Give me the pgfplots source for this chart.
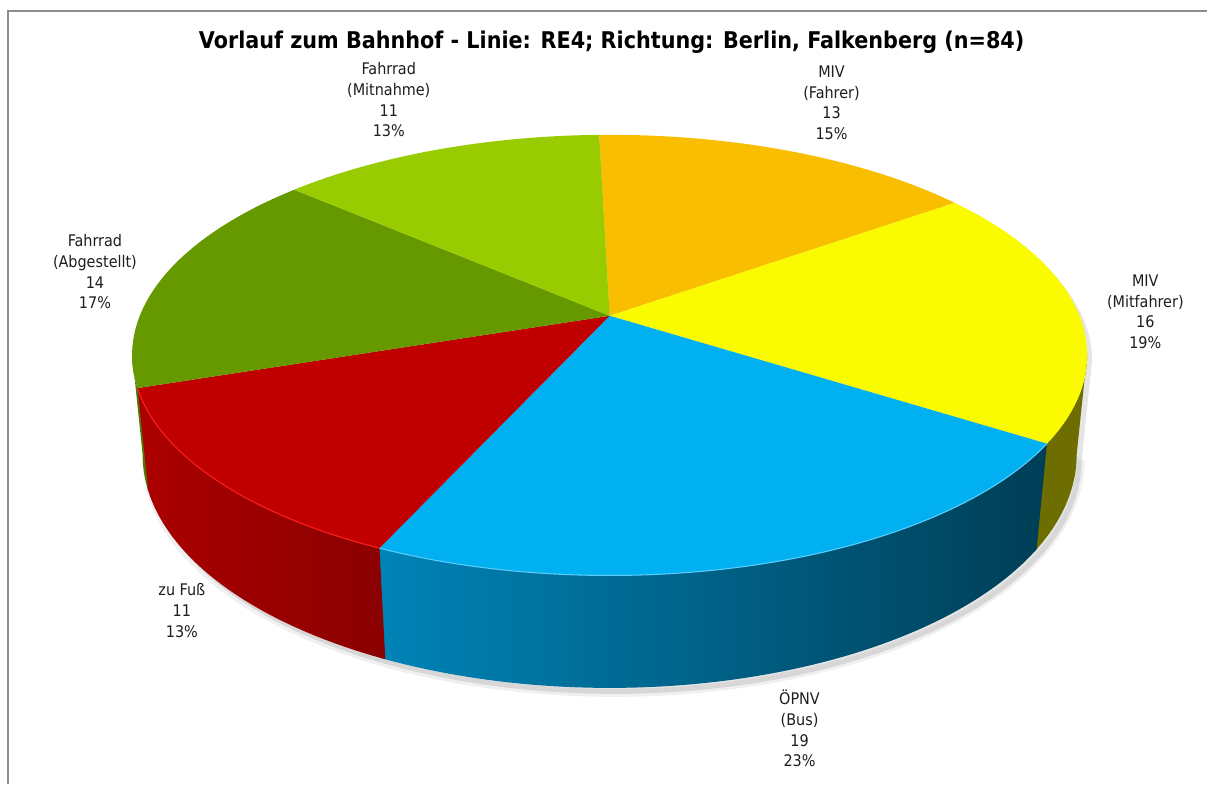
\documentclass[border=0pt]{standalone}
\usepackage{pgfplots}
\pgfplotsset{compat=1.18}
\usepackage{pgfplotstable}
\usepackage{fontspec}
\setmainfont{DejaVu Sans Condensed}
\definecolor{cOrange}{RGB}{250,190,0}
\definecolor{cYellow}{RGB}{250,250,0}
\definecolor{cBlue}{RGB}{0,176,240}
\definecolor{cRed}{RGB}{192,0,0}
\definecolor{cDGreen}{RGB}{102,153,0}
\definecolor{cLGreen}{RGB}{153,204,0}
\definecolor{wYellow}{RGB}{110,110,0}
\definecolor{wBlueL}{RGB}{0,132,184}
\definecolor{wBlueM}{RGB}{0,88,120}
\definecolor{wBlueR}{RGB}{0,62,86}
\definecolor{wRedL}{RGB}{172,0,0}
\definecolor{wRedR}{RGB}{138,0,0}
\definecolor{wGreen}{RGB}{78,118,0}
\definecolor{frame}{RGB}{140,140,140}
\tikzset{declare function={
  den(\t,\z)=4.99+0.891*cos(\t)-0.454*\z;
  px(\t,\z)=610+2346*sin(\t)/den(\t,\z);
  py(\t,\z)=468+2346*(0.454*cos(\t)+0.891*\z)/den(\t,\z);
  wt(\s)=ifthenelse(\s<=1,\s,ifthenelse(\s<=1.1,1,2.1-\s));
  wz(\s)=ifthenelse(\s<=1,0,ifthenelse(\s<=1.1,-2.4*(\s-1),-0.24));
  st(\s)=ifthenelse(\s<=1,100+160*\s,260+200*(\s-1));
  sz(\s)=ifthenelse(\s<=1,-0.24,0);
}}
\pgfplotstableread{
idx value
0 13
1 16
2 19
3 11
4 14
5 11
}\piedata
\begin{document}
\begin{tikzpicture}
\pgfplotstablegetelem{0}{value}\of\piedata\let\vA\pgfplotsretval
\pgfplotstablegetelem{1}{value}\of\piedata\let\vB\pgfplotsretval
\pgfplotstablegetelem{2}{value}\of\piedata\let\vC\pgfplotsretval
\pgfplotstablegetelem{3}{value}\of\piedata\let\vD\pgfplotsretval
\pgfplotstablegetelem{4}{value}\of\piedata\let\vE\pgfplotsretval
\pgfplotstablegetelem{5}{value}\of\piedata\let\vF\pgfplotsretval
\pgfmathsetmacro\total{\vA+\vB+\vC+\vD+\vE+\vF}
\pgfmathsetmacro\aA{-1.5}
\pgfmathsetmacro\aB{\aA+360*\vA/\total}
\pgfmathsetmacro\aC{\aB+360*\vB/\total}
\pgfmathsetmacro\aD{\aC+360*\vC/\total}
\pgfmathsetmacro\aE{\aD+360*\vD/\total}
\pgfmathsetmacro\aF{\aE+360*\vE/\total}
\pgfmathsetmacro\aG{\aF+360*\vF/\total}
\pgfmathsetmacro\yS{max(\aB,100)}
\pgfmathsetmacro\gE{min(\aF,260)}
\pgfmathsetmacro\cX{\aC+0.6}
\pgfmathsetmacro\dX{\aD+0.6}
\pgfmathsetmacro\eX{\aE+0.6}
\begin{axis}[width=906pt, height=588pt, scale only axis,
  xmin=0, xmax=1208, ymin=0, ymax=784, hide axis, clip=false]
\fill[white] (axis cs:0,0) rectangle (axis cs:1208,784);
% shadow
\addplot[draw=none, fill=black, fill opacity=0.10, domain=0:2, samples=241]
  ({px(st(x),sz(x))+5},{py(st(x),sz(x))-6}) -- cycle;
\addplot[draw=black, draw opacity=0.06, line width=6pt, fill=none, domain=0:1, samples=121]
  ({px(100+160*x,-0.24)+4},{py(100+160*x,-0.24)-5});
% side walls
\addplot[draw=none, fill=wYellow, domain=0:2.1, samples=211]
  ({px(\yS+(\cX-\yS)*wt(x),wz(x))},{py(\yS+(\cX-\yS)*wt(x),wz(x))}) -- cycle;
\addplot[draw=none, left color=wBlueL, middle color=wBlueM, right color=wBlueR, domain=0:2.1, samples=421]
  ({px(\aC+(\dX-\aC)*wt(x),wz(x))},{py(\aC+(\dX-\aC)*wt(x),wz(x))}) -- cycle;
\addplot[draw=none, left color=wRedL, right color=wRedR, domain=0:2.1, samples=316]
  ({px(\aD+(\eX-\aD)*wt(x),wz(x))},{py(\aD+(\eX-\aD)*wt(x),wz(x))}) -- cycle;
\addplot[draw=none, fill=wGreen, domain=0:2.1, samples=106]
  ({px(\aE+(\gE-\aE)*wt(x),wz(x))},{py(\aE+(\gE-\aE)*wt(x),wz(x))}) -- cycle;
% top faces
\addplot[draw=none, fill=cOrange, domain=\aA:\aB, samples=80] ({px(x,0)},{py(x,0)}) -- (axis cs:610,468) -- cycle;
\addplot[draw=none, fill=cYellow, domain=\aB:\aC, samples=80] ({px(x,0)},{py(x,0)}) -- (axis cs:610,468) -- cycle;
\addplot[draw=none, fill=cBlue, domain=\aC:\aD, samples=80] ({px(x,0)},{py(x,0)}) -- (axis cs:610,468) -- cycle;
\addplot[draw=none, fill=cRed, domain=\aD:\aE, samples=80] ({px(x,0)},{py(x,0)}) -- (axis cs:610,468) -- cycle;
\addplot[draw=none, fill=cDGreen, domain=\aE:\aF, samples=80] ({px(x,0)},{py(x,0)}) -- (axis cs:610,468) -- cycle;
\addplot[draw=none, fill=cLGreen, domain=\aF:\aG, samples=80] ({px(x,0)},{py(x,0)}) -- (axis cs:610,468) -- cycle;
% rim highlights
\addplot[draw={rgb,255:red,90;green,205;blue,255}, line width=0.8pt, domain=\aC:\aD, samples=80] ({px(x,0)},{py(x,0)});
\addplot[draw={rgb,255:red,255;green,30;blue,30}, line width=0.8pt, domain=\aD:\aE, samples=80] ({px(x,0)},{py(x,0)});
% labels
\tikzset{lbl/.style={align=center, font=\fontsize{12}{15.5}\selectfont, text={rgb,255:red,30;green,30;blue,30}}}
\node[lbl] at (axis cs:389,684) {Fahrrad\\(Mitnahme)\\11\\13\%};
\node[lbl] at (axis cs:832,681) {MIV\\(Fahrer)\\13\\15\%};
\node[lbl] at (axis cs:1146,472) {MIV\\(Mitfahrer)\\16\\19\%};
\node[lbl] at (axis cs:800,55) {ÖPNV\\(Bus)\\19\\23\%};
\node[lbl] at (axis cs:182,173) {zu Fuß\\11\\13\%};
\node[lbl] at (axis cs:95,512) {Fahrrad\\(Abgestellt)\\14\\17\%};
\node[font=\bfseries\fontsize{17.3}{21}\selectfont] at (axis cs:612,742)
  {Vorlauf zum Bahnhof - Linie: RE4; Richtung: Berlin, Falkenberg (n=84)};
\draw[frame, line width=1.1pt] (axis cs:8,0) -- (axis cs:8,773) -- (axis cs:1208,773);
\end{axis}
\end{tikzpicture}
\end{document}
